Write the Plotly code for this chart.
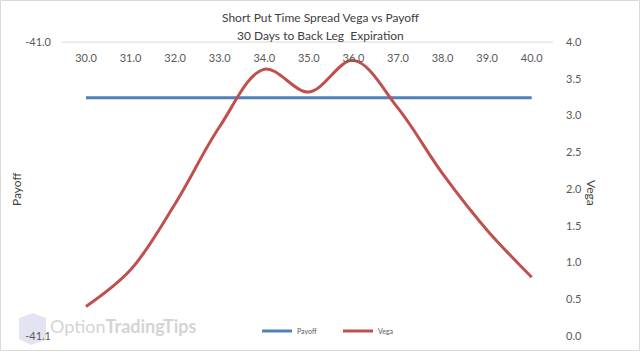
import plotly.graph_objects as go

strikes = [30.0, 31.0, 32.0, 33.0, 34.0, 35.0, 36.0, 37.0, 38.0, 39.0, 40.0]
payoff = [-41.019] * 11
vega = [0.40, 0.90, 1.80, 2.85, 3.63, 3.32, 3.75, 3.10, 2.21, 1.44, 0.80]
tick_labels = [f"{s:.1f}" for s in strikes]

FONT = "Lato"
TXT = "#595959"

# plot area in pixels
L, R, T, B = 62, 553, 42, 336
W, H = 640, 352
pw, ph = R - L, B - T
px = lambda p: (p - L) / pw
py = lambda q: (B - q) / ph
xscale = (531.7 - 86.0) / 10.0
xr = [30 - (86.0 - L) / xscale, 40 + (R - 531.7) / xscale]

fig = go.Figure()
fig.add_trace(go.Scatter(x=strikes, y=payoff, name="Payoff", mode="lines",
                         line=dict(color="#4F81BD", width=3), yaxis="y"))
fig.add_trace(go.Scatter(x=strikes, y=vega, name="Vega", mode="lines",
                         line=dict(color="#C0504D", width=3, shape="spline", smoothing=1.0),
                         yaxis="y2"))

fig.update_layout(
    width=W, height=H,
    margin=dict(l=L, r=W - R, t=T, b=H - B, autoexpand=False),
    paper_bgcolor="white", plot_bgcolor="white",
    font=dict(family=FONT, color=TXT, size=11),
    showlegend=True,
    legend=dict(orientation="h", x=257 / W, xanchor="left", xref="container",
                y=(H - 331) / H, yanchor="middle", yref="container",
                font=dict(size=7, color=TXT), bgcolor="rgba(0,0,0,0)",
                entrywidth=36, itemwidth=30),
    xaxis=dict(range=xr, tickvals=strikes, ticktext=tick_labels, anchor="free", position=1,
               side="bottom", showgrid=False, zeroline=False, showline=False, ticks="",
               ticklabelstandoff=8, tickfont=dict(size=11, color=TXT, family=FONT)),
    yaxis=dict(range=[-41.1, -41.0], tickvals=[-41.1, -41.0], ticktext=["-41.1", "-41.0"],
               showgrid=True, gridcolor="#D9D9D9", gridwidth=1, zeroline=False,
               showline=False, ticks="", ticklabelstandoff=10,
               tickfont=dict(size=11, color=TXT, family=FONT)),
    yaxis2=dict(range=[0, 4], tickvals=[0, 0.5, 1, 1.5, 2, 2.5, 3, 3.5, 4],
                ticktext=["0.0", "0.5", "1.0", "1.5", "2.0", "2.5", "3.0", "3.5", "4.0"],
                overlaying="y", side="right", showgrid=False, zeroline=False,
                showline=False, ticks="", ticklabelstandoff=12,
                tickfont=dict(size=11, color=TXT, family=FONT)),
)

# top gridline (only visible major gridline)
fig.add_shape(type="line", xref="paper", yref="paper", x0=0, x1=1, y0=1, y1=1,
              line=dict(color="#D9D9D9", width=1), layer="below")

# chart-area border
fig.add_shape(type="rect", xref="paper", yref="paper",
              x0=px(0.5), x1=px(639.5), y0=py(350.5), y1=py(0.5),
              line=dict(color="#D9D9D9", width=1))

def note(text, x, y, angle=0, size=12, color="#404040", xa="center"):
    fig.add_annotation(text=text, xref="paper", yref="paper", x=px(x), y=py(y),
                       xanchor=xa, yanchor="middle", textangle=angle, showarrow=False,
                       font=dict(size=size, color=color, family=FONT))

# titles
note("Short Put Time Spread Vega vs Payoff", 320, 18)
note("30 Days to Back Leg  Expiration", 320, 35)
note("Payoff", 16, 189, angle=-90)
note("Vega", 592, 193, angle=90)

# watermark
note("Option<b>TradingTips</b>", 48, 326, size=18, color="#D4D4D4", xa="left")
fig.add_shape(type="path", xref="paper", yref="paper",
              path=f"M {px(19)} {py(318)} L {px(33)} {py(313)} L {px(46)} {py(318)} "
                   f"L {px(46)} {py(340)} L {px(31)} {py(345)} L {px(19)} {py(339)} Z",
              fillcolor="rgba(190,195,225,0.45)", line=dict(width=0), layer="below")

fig.write_html("out.html")
